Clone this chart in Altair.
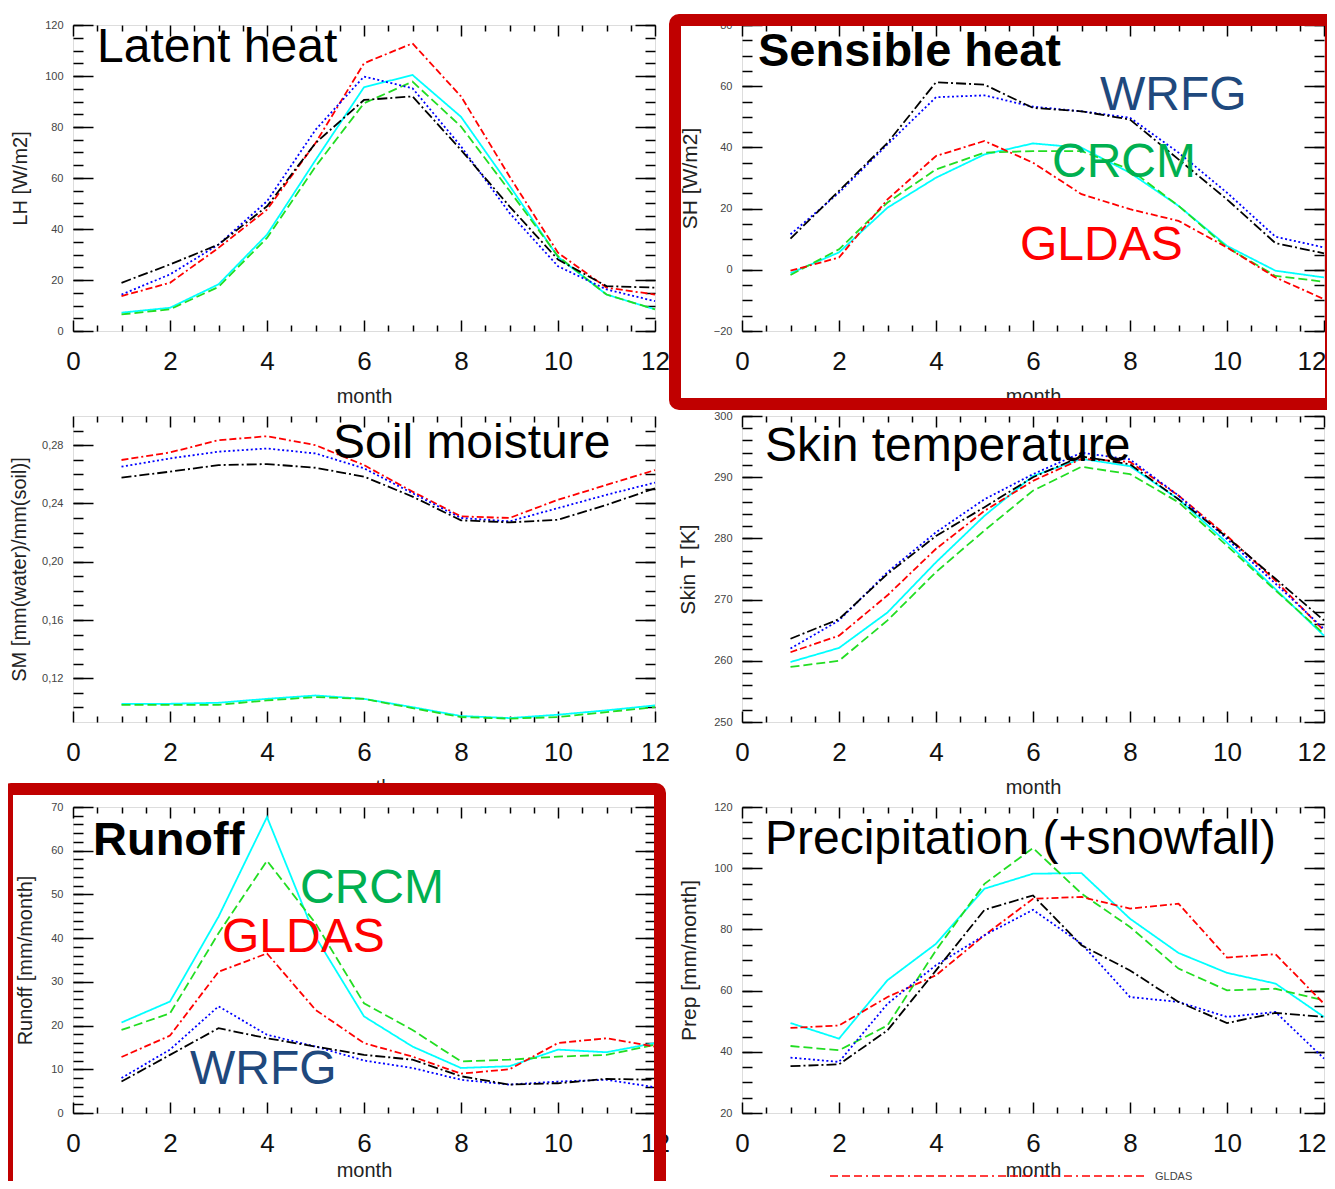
import altair as alt
import pandas as pd

months = list(range(1, 13))
series_names = ["CRCM-a", "CRCM", "GLDAS", "WRFG", "WRFG-b"]
series_colors = ["#00ffff", "#22dd22", "#ff0000", "#0000ff", "#000000"]
series_dashes = [[1, 0], [9, 4], [7, 3, 7, 3, 2, 3], [2, 2.5], [10, 3, 2, 3]]

# Latent heat [W/m2]
lh_cyan = [7.2, 9.1, 18.3, 37.8, 67.0, 95.6, 100.4, 84.0, 57.0, 29.0, 14.3, 8.5]
lh_green = [6.5, 8.5, 17.3, 36.5, 64.5, 89.3, 97.8, 80.2, 55.0, 29.3, 14.3, 8.5]
lh_red = [13.7, 18.9, 32.6, 47.6, 73.7, 105.0, 112.8, 92.0, 60.6, 30.7, 17.0, 14.3]
lh_blue = [14.3, 22.2, 33.9, 50.9, 78.9, 99.8, 95.2, 72.4, 46.3, 25.4, 16.3, 11.7]
lh_black = [18.9, 26.1, 33.9, 48.9, 73.7, 90.6, 92.0, 71.0, 48.9, 28.0, 17.6, 17.0]

# Sensible heat [W/m2]
sh_cyan = [-1.1, 5.7, 20.3, 30.1, 37.7, 41.3, 39.9, 31.7, 20.9, 7.8, -0.3, -2.5]
sh_green = [-1.7, 6.7, 22.0, 32.8, 38.3, 38.8, 38.8, 32.8, 20.9, 7.3, -2.0, -3.9]
sh_red = [-0.3, 4.0, 23.0, 37.2, 42.1, 35.0, 24.7, 19.8, 16.0, 7.3, -2.5, -9.6]
sh_blue = [11.6, 25.2, 41.0, 56.4, 57.0, 53.3, 51.8, 49.7, 38.3, 25.2, 10.8, 7.3]
sh_black = [10.2, 25.8, 41.5, 61.3, 60.5, 52.9, 51.8, 49.1, 36.1, 23.0, 8.7, 5.4]

# Soil moisture
sm_cyan = [0.1025, 0.1025, 0.1032, 0.1059, 0.1082, 0.1059, 0.1002, 0.0941, 0.0927, 0.0950, 0.0980, 0.1014]
sm_green = [0.1018, 0.1018, 0.1018, 0.1048, 0.1071, 0.1059, 0.0995, 0.0934, 0.0923, 0.0934, 0.0968, 0.1002]
sm_red = [0.2698, 0.2750, 0.2834, 0.2861, 0.2800, 0.2663, 0.2481, 0.2311, 0.2300, 0.2425, 0.2527, 0.2629]
sm_blue = [0.2652, 0.2709, 0.2755, 0.2777, 0.2743, 0.2641, 0.2470, 0.2300, 0.2277, 0.2368, 0.2459, 0.2543]
sm_black = [0.2577, 0.2618, 0.2663, 0.2670, 0.2645, 0.2584, 0.2447, 0.2284, 0.2270, 0.2288, 0.2390, 0.2504]

# Skin temperature [K]
st_cyan = [259.8, 262.1, 267.9, 276.1, 283.7, 290.2, 293.0, 291.8, 286.4, 279.3, 271.7, 264.1]
st_green = [259.0, 260.0, 266.6, 274.5, 281.3, 287.8, 291.7, 290.5, 285.9, 278.8, 271.5, 264.4]
st_red = [261.4, 264.1, 270.7, 278.3, 284.5, 289.4, 293.0, 292.5, 287.0, 280.4, 273.1, 264.9]
st_blue = [262.0, 266.6, 274.5, 281.0, 286.4, 290.5, 294.0, 292.9, 287.0, 279.9, 272.6, 265.2]
st_black = [263.6, 266.8, 274.2, 280.4, 285.1, 290.0, 293.4, 292.1, 286.4, 280.2, 273.4, 266.6]

# Runoff [mm/month]
ro_cyan = [20.7, 25.5, 44.9, 67.7, 40.3, 22.1, 15.2, 10.3, 10.7, 14.5, 13.9, 16.0]
ro_green = [19.0, 22.8, 41.1, 57.7, 43.4, 25.1, 19.0, 11.8, 12.2, 12.9, 13.3, 15.6]
ro_red = [12.8, 17.7, 32.3, 36.5, 23.6, 16.0, 12.9, 9.0, 10.0, 16.0, 17.1, 15.2]
ro_blue = [8.0, 14.5, 24.4, 17.9, 15.2, 12.0, 10.3, 7.6, 6.5, 7.2, 7.6, 5.9]
ro_black = [7.2, 13.3, 19.4, 17.1, 15.2, 13.3, 12.2, 8.4, 6.5, 6.8, 7.8, 7.6]

# Precipitation (+snowfall) [mm/month]
pr_cyan = [49.4, 44.3, 63.4, 75.3, 93.3, 98.2, 98.4, 83.5, 72.3, 65.8, 62.3, 51.4]
pr_green = [41.9, 40.5, 48.6, 73.2, 94.9, 106.6, 91.7, 80.8, 67.2, 60.1, 60.6, 56.8]
pr_red = [47.8, 48.6, 57.9, 65.0, 78.1, 90.0, 90.6, 86.8, 88.4, 70.8, 71.9, 55.7]
pr_blue = [38.1, 36.7, 55.7, 68.3, 78.1, 86.4, 75.3, 57.9, 56.3, 51.4, 53.0, 37.8]
pr_black = [35.3, 35.9, 47.0, 66.6, 86.4, 91.1, 74.8, 66.6, 56.3, 49.4, 52.7, 51.4]

# tick values
x_major = [0, 2, 4, 6, 8, 10, 12]
x_minor = [0.5, 1, 1.5, 2.5, 3, 3.5, 4.5, 5, 5.5, 6.5, 7, 7.5, 8.5, 9, 9.5, 10.5, 11, 11.5]
lh_ticks = [0, 20, 40, 60, 80, 100, 120]
sh_ticks = [-20, 0, 20, 40, 60, 80]
sm_ticks = [0.12, 0.16, 0.20, 0.24, 0.28]
st_ticks = [250, 260, 270, 280, 290, 300]
ro_ticks = [0, 10, 20, 30, 40, 50, 60, 70]
pr_ticks = [20, 40, 60, 80, 100, 120]


def minors(lo, hi, step):
    n = int(round((hi - lo) / step))
    return [round(lo + i * step, 4) for i in range(n + 1)]


W, H = 582, 306
FONT = "Liberation Sans"
RED_BOX = "#C00000"
ANN = 48


def long_df(cols):
    rows = []
    for name, vals in zip(series_names, cols):
        for m, v in zip(months, vals):
            rows.append({"month": m, "value": v, "series": name})
    return pd.DataFrame(rows)


def text_layer(label, px, py, size, color="#000000", bold=False):
    return alt.Chart(pd.DataFrame({"t": [label]})).mark_text(
        align="left", baseline="alphabetic", font=FONT, fontSize=size,
        fontWeight="bold" if bold else "normal", color=color,
    ).encode(text="t:N", x=alt.value(px), y=alt.value(py))


def box_layer(x0, x1, y0, y1):
    return alt.Chart(pd.DataFrame({"b": [0]})).mark_rect(
        fillOpacity=0, stroke=RED_BOX, strokeWidth=12, cornerRadius=4,
    ).encode(x=alt.value(x0), x2=alt.value(x1), y=alt.value(y0), y2=alt.value(y1))


def panel(cols, ydom, ymajor, yminor, ytitle, title_x, title_size, label_expr,
          extras, right_col=False, month_y=65):
    df = long_df(cols)
    xsc = alt.Scale(domain=[0, 12], nice=False, zero=False)
    ysc = alt.Scale(domain=ydom, nice=False, zero=False)
    base = alt.Chart(df)
    xaxis_kw = dict(
        values=x_major, ticks=False, tickSize=0, domain=False, grid=False,
        labelFont=FONT, labelFontSize=26, labelColor="#111", labelPadding=30,
        labelBaseline="middle", labelFlush=False, labelOverlap=False,
        title="month", titleFont=FONT, titleFontSize=20, titleFontWeight="normal",
        titleColor="#222", titleX=W / 2, titleY=month_y, titleBaseline="middle",
    )
    if right_col:
        xaxis_kw["labelAlign"] = {"condition": {"test": "datum.value == 12", "value": "right"}, "value": "center"}
        xaxis_kw["labelOffset"] = {"condition": {"test": "datum.value == 12", "value": 2}, "value": 0}
    lines = base.mark_line(strokeWidth=1.8).encode(
        x=alt.X("month:Q", scale=xsc, axis=alt.Axis(**xaxis_kw)),
        y=alt.Y("value:Q", scale=ysc, axis=alt.Axis(
            values=ymajor, ticks=False, tickSize=0, domain=False, grid=False,
            labelFont=FONT, labelFontSize=11, labelColor="#444", labelPadding=10,
            labelExpr=label_expr, labelFlush=False, labelOverlap=False,
            title=ytitle, titleFont=FONT, titleFontSize=title_size, titleFontWeight="normal",
            titleColor="#222", titleX=title_x, titleY=H / 2, titleBaseline="middle",
            titleAngle=270)),
        color=alt.Color("series:N", scale=alt.Scale(domain=series_names, range=series_colors), legend=None),
        strokeDash=alt.StrokeDash("series:N", scale=alt.Scale(domain=series_names, range=series_dashes), legend=None),
    )

    def tick_layer(ox, oy, xv, yv, xs, ys):
        return base.mark_point(opacity=0).encode(
            x=alt.X("month:Q", scale=xsc, axis=alt.Axis(
                orient=ox, offset=-H, values=xv, labels=False, domain=False, grid=False,
                tickSize=xs, tickWidth=1.5, tickColor="#000", title=None)),
            y=alt.Y("value:Q", scale=ysc, axis=alt.Axis(
                orient=oy, offset=-W, values=yv, labels=False, domain=False, grid=False,
                tickSize=ys, tickWidth=1.5, tickColor="#000", title=None)),
        )

    layers = [
        tick_layer("top", "right", x_major, ymajor, 11, 20),
        tick_layer("top", "right", x_minor, yminor, 6, 10),
        tick_layer("bottom", "left", x_major, ymajor, 11, 20),
        tick_layer("bottom", "left", x_minor, yminor, 6, 10),
        lines,
    ] + extras
    return alt.layer(*layers).resolve_axis(x="independent", y="independent").properties(width=W, height=H)


INT_FMT = "format(datum.value, 'd')"
SM_FMT = "replace(format(datum.value, '.2f'), '.', ',')"

p1 = panel([lh_cyan, lh_green, lh_red, lh_blue, lh_black], [0, 120], lh_ticks,
           minors(0, 120, 5), "LH [W/m2]", -53, 20, INT_FMT,
           [text_layer("Latent heat", 24, 37, ANN)])

p2 = panel([sh_cyan, sh_green, sh_red, sh_blue, sh_black], [-20, 80], sh_ticks,
           minors(-20, 80, 5), "SH [W/m2]", -52, 21, INT_FMT,
           [box_layer(-67, 589, -5, 379),
            text_layer("Sensible heat", 16, 41, 47, bold=True),
            text_layer("WRFG", 358, 85, ANN, "#1F497D"),
            text_layer("CRCM", 310, 152, ANN, "#00B050"),
            text_layer("GLDAS", 278, 235, ANN, "#FF0000")],
           right_col=True)

p3 = panel([sm_cyan, sm_green, sm_red, sm_blue, sm_black], [0.09, 0.30], sm_ticks,
           minors(0.10, 0.29, 0.01), "SM [mm(water)/mm(soil)]", -54, 20, SM_FMT,
           [text_layer("Soil moisture", 260, 42, ANN)])

p4 = panel([st_cyan, st_green, st_red, st_blue, st_black], [250, 300], st_ticks,
           minors(250, 300, 2), "Skin T [K]", -54, 21, INT_FMT,
           [text_layer("Skin temperature", 23, 45, ANN)],
           right_col=True)

p5 = panel([ro_cyan, ro_green, ro_red, ro_blue, ro_black], [0, 70], ro_ticks,
           minors(0, 70, 2), "Runoff [mm/month]", -48, 20, INT_FMT,
           [box_layer(-66, 587, -18, 382),
            text_layer("Runoff", 20, 48, 47, bold=True),
            text_layer("CRCM", 227, 96, ANN, "#00B050"),
            text_layer("GLDAS", 149, 145, ANN, "#FF0000"),
            text_layer("WRFG", 117, 277, ANN, "#1F497D")],
           month_y=57)

legend_rule = alt.Chart(pd.DataFrame({"r": [0]})).mark_rule(
    color="#ff0000", strokeWidth=1.5, strokeDash=[8, 4, 8, 4, 8, 4, 2, 4],
).encode(x=alt.value(88), x2=alt.value(403), y=alt.value(369))

p6 = panel([pr_cyan, pr_green, pr_red, pr_blue, pr_black], [20, 120], pr_ticks,
           minors(20, 120, 5), "Prep [mm/month]", -53, 21, INT_FMT,
           [text_layer("Precipitation (+snowfall)", 23, 47, ANN),
            legend_rule,
            text_layer("GLDAS", 413, 373, 11, "#444")],
           right_col=True, month_y=57)

chart = alt.concat(
    p1, p2, p3, p4, p5, p6, columns=2, bounds="flush",
    spacing={"row": 85, "column": 87},
).properties(
    autosize=alt.AutoSizeParams(type="none"),
    padding={"left": 65, "top": 17, "right": 1254, "bottom": 1156},
).configure_view(
    stroke="#000", strokeWidth=1.5,
).configure(background="white")

chart.save("out.html", embed_options={"renderer": "svg", "actions": False})
